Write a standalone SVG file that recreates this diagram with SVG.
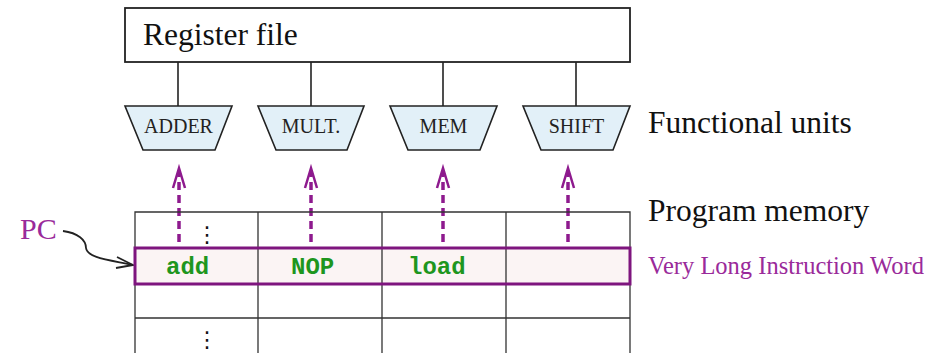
<svg xmlns="http://www.w3.org/2000/svg" width="947" height="353" viewBox="0 0 947 353">
<defs>
<style>
.serif{font-family:"Liberation Serif","Times New Roman",serif;}
.big{font-size:31.5px;fill:#111;}
.fu{fill:#e2f0f8;stroke:#222;stroke-width:1.6;}
.fulabel{font-size:20px;fill:#222;text-anchor:middle;}
.grid{stroke:#333;stroke-width:1.3;fill:none;}
.code{font-family:"Liberation Mono","Courier New",monospace;font-weight:bold;font-size:24px;fill:#1e961e;}
.dash{stroke:#8e1a8e;stroke-width:3.5;stroke-dasharray:8 5;fill:none;}
.head{stroke:#8e1a8e;stroke-width:2.5;fill:none;stroke-linejoin:miter;}
.purple{fill:#9a2a9a;}
.vdots{font-family:"DejaVu Sans",sans-serif;font-size:22px;fill:#111;text-anchor:middle;}
</style>
</defs>
<rect width="947" height="353" fill="#fff"/>

<g id="register-file">
<rect x="125" y="8" width="505" height="54" fill="#fff" stroke="#222" stroke-width="1.8"/>
<text class="serif big" x="143" y="45">Register file</text>
</g>

<g id="connectors">
<line x1="178" y1="62" x2="178" y2="106" stroke="#222" stroke-width="1.6"/>
<line x1="311" y1="62" x2="311" y2="106" stroke="#222" stroke-width="1.6"/>
<line x1="443" y1="62" x2="443" y2="106" stroke="#222" stroke-width="1.6"/>
<line x1="576" y1="62" x2="576" y2="106" stroke="#222" stroke-width="1.6"/>
<line class="dash" x1="179" y1="242" x2="179" y2="172"/>
<polyline class="head" points="173,188 179,168 185,188"/>
<line class="dash" x1="311" y1="242" x2="311" y2="172"/>
<polyline class="head" points="305,188 311,168 317,188"/>
<line class="dash" x1="443" y1="242" x2="443" y2="172"/>
<polyline class="head" points="437,188 443,168 449,188"/>
<line class="dash" x1="568" y1="242" x2="568" y2="172"/>
<polyline class="head" points="562,188 568,168 574,188"/>
<path d="M 63 231 C 78 233, 86 240, 86 248 C 87 258, 110 260, 133 265" fill="none" stroke="#222" stroke-width="1.8"/>
<polyline points="117,257 133,265 116,268" fill="none" stroke="#222" stroke-width="1.8"/>
</g>

<g id="adder">
<polygon class="fu" points="125,106 232,106 215,150 143,150"/>
<text class="serif fulabel" x="178.5" y="133">ADDER</text>
</g>
<g id="mult">
<polygon class="fu" points="258,106 364,106 347,150 276,150"/>
<text class="serif fulabel" x="311" y="133">MULT.</text>
</g>
<g id="mem">
<polygon class="fu" points="390,106 497,106 480,150 408,150"/>
<text class="serif fulabel" x="443.5" y="133">MEM</text>
</g>
<g id="shift">
<polygon class="fu" points="523,106 630,106 613,150 541,150"/>
<text class="serif fulabel" x="576.5" y="133">SHIFT</text>
</g>

<text class="serif big" x="648" y="133">Functional units</text>

<g id="program-memory">
<rect x="135" y="248" width="495" height="36" fill="#fbf4f4"/>
<path class="grid" d="M135 353 V212 H630 V353 M258 212 V353 M382 212 V353 M506 212 V353 M135 318 H630"/>
<rect x="135" y="248" width="495" height="36" fill="none" stroke="#7e157e" stroke-width="3"/>
<text class="code" x="166" y="274">add</text>
<text class="code" x="291" y="274">NOP</text>
<text class="code" x="408" y="274">load</text>
<text class="vdots" x="207" y="242">⋮</text>
<text class="vdots" x="207" y="347">⋮</text>
</g>

<text class="serif big" x="648" y="221">Program memory</text>

<g id="pc">
<text class="serif purple" x="20" y="239" font-size="30">PC</text>
</g>

<text class="serif purple" x="648" y="274" font-size="24.5">Very Long Instruction Word</text>
</svg>
